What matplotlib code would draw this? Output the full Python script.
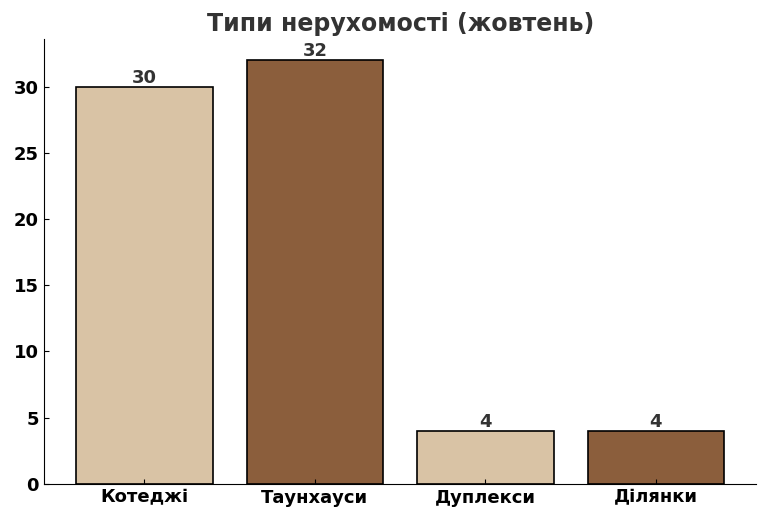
import matplotlib
matplotlib.use("Agg")
import matplotlib.pyplot as plt

categories = ["Котеджі", "Таунхауси", "Дуплекси", "Ділянки"]
values = [30, 32, 4, 4]
colors = ["#d9c3a5", "#8b5e3c", "#d9c3a5", "#8b5e3c"]

plt.rcParams['font.family'] = ['DejaVu Sans']
fig, ax = plt.subplots(figsize=(7.68, 5.19), dpi=100)
bars = ax.bar(categories, values, color=colors, edgecolor="black", linewidth=1.2)
for b, v in zip(bars, values):
    ax.text(b.get_x() + b.get_width()/2, v, str(v), ha="center", va="bottom",
            fontsize=13, fontweight="bold", color="#333333")
ax.set_title("Типи нерухомості (жовтень)", fontsize=17, fontweight="bold", color="#333333")
ax.spines['top'].set_visible(False)
ax.spines['right'].set_visible(False)
ax.tick_params(labelsize=13, direction="in")
for t in ax.get_xticklabels() + ax.get_yticklabels():
    t.set_fontweight("bold")
ax.set_ylim(0, 33.6)
ax.set_yticks([0, 5, 10, 15, 20, 25, 30])
fig.subplots_adjust(left=0.057, right=0.985, top=0.925, bottom=0.068)
fig.savefig("out.png")
